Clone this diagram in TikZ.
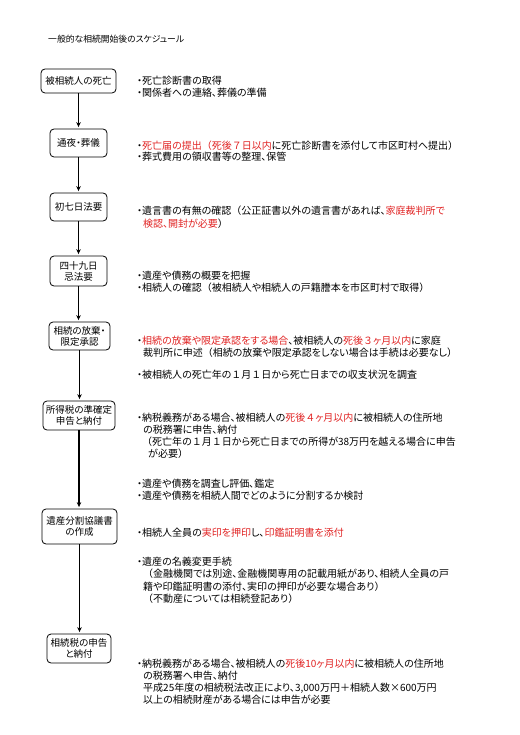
\documentclass[tikz,border=0pt]{standalone}
\usepackage{fontspec}
\setmainfont{Noto Sans CJK JP}[RawFeature=+palt]
\newfontfamily\jpfull{Noto Sans CJK JP}
\usetikzlibrary{arrows.meta}
\definecolor{jred}{RGB}{225,35,35}
\newcommand{\rd}[1]{\textcolor{jred}{#1}}
\newcommand{\fw}[1]{{\jpfull #1}}
\begin{document}
\begin{tikzpicture}[x=1pt,y=-1pt,
  box/.style={draw, rounded corners=4pt, line width=0.8pt, align=center, inner sep=0pt, font=\fontsize{9.5}{11}\selectfont},
  txt/.style={anchor=base west, inner sep=0pt, font=\fontsize{10}{12}\selectfont},
  ttl/.style={anchor=base west, inner sep=0pt, font=\fontsize{8.8}{10}\selectfont},
  arr/.style={line width=1.1pt, -{Stealth[length=5pt,width=4.5pt]}, shorten >=1.5pt}]
\useasboundingbox (0,0) rectangle (519,735);
\fill[white] (0,0) rectangle (519,735);
\node[ttl] (title) at (48,43) {一般的な相続開始後のスケジュール};
% boxes
\node[box, minimum width=75pt, minimum height=24pt] (b1) at (78.5,81) {被相続人の死亡};
\node[box, minimum width=57pt, minimum height=28pt] (b2) at (78.5,143) {通夜・葬儀};
\node[box, minimum width=57pt, minimum height=28pt] (b3) at (78.5,207) {初七日法要};
\node[box, minimum width=57pt, minimum height=30pt] (b4) at (78.5,271) {四十九日\\忌法要};
\node[box, minimum width=61pt, minimum height=28pt] (b5) at (79.5,336) {相続の放棄・\\限定承認};
\node[box, minimum width=72pt, minimum height=29pt] (b6) at (79,415.5) {所得税の準確定\\申告と納付};
\node[box, minimum width=75pt, minimum height=35pt] (b7) at (79.5,526.5) {遺産分割協議書\\の作成};
\node[box, minimum width=64pt, minimum height=29pt] (b8) at (79,648.5) {相続税の申告\\と納付};
% arrows
\foreach \a/\b in {b1/b2,b2/b3,b3/b4,b4/b5,b5/b6,b6/b7,b7/b8}
  \draw[arr] (\a.south) -- (\a.south |- \b.north);
% texts
\node[txt] (l1) at (137,85) {・死亡診断書の取得};
\node[txt] (l2) at (137,96.5) {・関係者への連絡、葬儀の準備};
\node[txt] (l3) at (137,149.5) {・\rd{死亡届の提出\fw{（}死後\fw{７}日以内}に死亡診断書を添付して市区町村へ提出\fw{）}};
\node[txt] (l4) at (137,161) {・葬式費用の領収書等の整理、保管};
\node[txt] (l5) at (137,214.5) {・遺言書の有無の確認\fw{（}公正証書以外の遺言書があれば、\rd{家庭裁判所で}};
\node[txt] (l6) at (143,227) {\rd{検認、開封が必要}\fw{）}};
\node[txt] (l7) at (137,279) {・遺産や債務の概要を把握};
\node[txt] (l8) at (137,291.5) {・相続人の確認\fw{（}被相続人や相続人の戸籍謄本を市区町村で取得\fw{）}};
\node[txt] (l9) at (137,344.5) {・\rd{相続の放棄や限定承認をする場合}、被相続人の\rd{死後\fw{３}ヶ月以内}に家庭};
\node[txt] (l10) at (143,356.5) {裁判所に申述\fw{（}相続の放棄や限定承認をしない場合は手続は必要なし\fw{）}};
\node[txt] (l11) at (137,378.5) {・被相続人の死亡年の\fw{１}月\fw{１}日から死亡日までの収支状況を調査};
\node[txt] (l12) at (137,421.5) {・納税義務がある場合、被相続人の\rd{死後\fw{４}ヶ月以内}に被相続人の住所地};
\node[txt] (l13) at (143,433.5) {の税務署に申告、納付};
\node[txt] (l14) at (142,445.5) {\fw{（}死亡年の\fw{１}月\fw{１}日から死亡日までの所得が38万円を越える場合に申告};
\node[txt] (l15) at (148,457.5) {が必要\fw{）}};
\node[txt] (l16) at (137,487) {・遺産や債務を調査し評価、鑑定};
\node[txt] (l17) at (137,499.5) {・遺産や債務を相続人間でどのように分割するか検討};
\node[txt] (l18) at (137,536) {・相続人全員の\rd{実印を押印}し、\rd{印鑑証明書を添付}};
\node[txt] (l19) at (137,565) {・遺産の名義変更手続};
\node[txt] (l20) at (143,577.5) {\fw{（}金融機関では別途、金融機関専用の記載用紙があり、相続人全員の戸};
\node[txt] (l21) at (143,590) {籍や印鑑証明書の添付、実印の押印が必要な場合あり\fw{）}};
\node[txt] (l22) at (143,602) {\fw{（}不動産については相続登記あり\fw{）}};
\node[txt] (l23) at (137,667) {・納税義務がある場合、被相続人の\rd{死後10ヶ月以内}に被相続人の住所地};
\node[txt] (l24) at (143,679.5) {の税務署へ申告、納付};
\node[txt] (l25) at (143,691.5) {平成25年度の相続税法改正により、3,000万円\fw{＋}相続人数×600万円};
\node[txt] (l26) at (143,703.5) {以上の相続財産がある場合には申告が必要};
\end{tikzpicture}
\end{document}
